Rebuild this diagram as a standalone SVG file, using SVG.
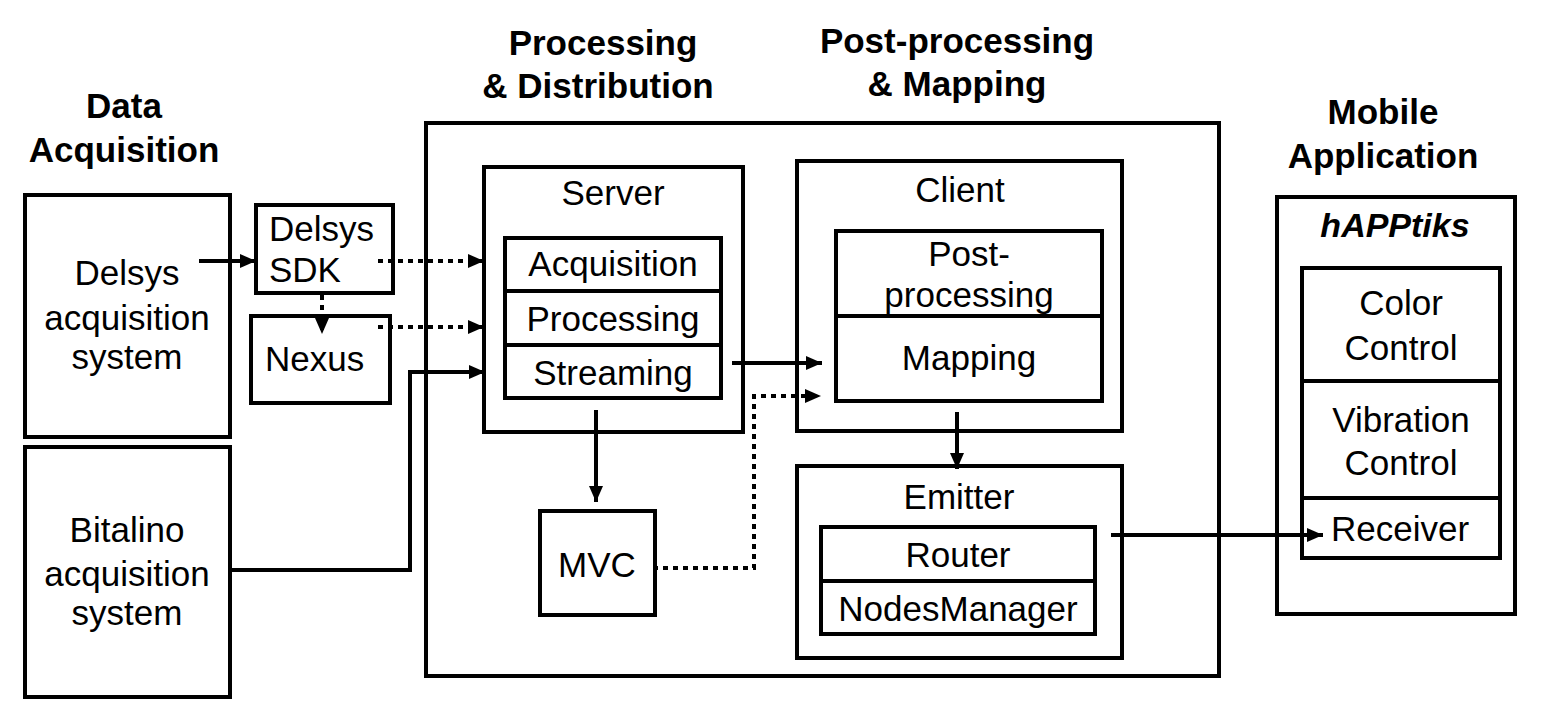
<svg xmlns="http://www.w3.org/2000/svg" width="1550" height="720" viewBox="0 0 1550 720">
<style>
.b{fill:none;stroke:#000;stroke-width:4}
.t{font-family:"Liberation Sans",Arial,sans-serif;font-size:35px;fill:#000;text-anchor:middle}
.h{font-family:"Liberation Sans",Arial,sans-serif;font-size:35px;font-weight:bold;fill:#000;text-anchor:middle}
.s{fill:none;stroke:#000;stroke-width:4}
.d{fill:none;stroke:#000;stroke-width:4;stroke-dasharray:5 5}
</style>
<defs>
<marker id="ar" markerUnits="userSpaceOnUse" markerWidth="16" markerHeight="14" refX="16" refY="7" orient="auto">
<path d="M0,0 L16,7 L0,14 z" fill="#000"/>
</marker>
</defs>
<rect width="1550" height="720" fill="#fff"/>

<g id="titles">
<text class="h" x="124" y="118">Data</text>
<text class="h" x="124" y="162">Acquisition</text>
<text class="h" x="603" y="55">Processing</text>
<text class="h" x="598" y="98">&amp; Distribution</text>
<text class="h" x="957" y="53">Post-processing</text>
<text class="h" x="957" y="96">&amp; Mapping</text>
<text class="h" x="1383" y="124">Mobile</text>
<text class="h" x="1383" y="168">Application</text>
</g>

<g id="outer"><rect class="b" x="426" y="123" width="793" height="553"/></g>

<g id="delsys-acq">
<rect class="b" x="25" y="195" width="205" height="242"/>
<text class="t" x="127" y="285">Delsys</text>
<text class="t" x="127" y="330">acquisition</text>
<text class="t" x="127" y="369">system</text>
</g>

<g id="bitalino">
<rect class="b" x="25" y="447" width="205" height="250"/>
<text class="t" x="127" y="542">Bitalino</text>
<text class="t" x="127" y="586">acquisition</text>
<text class="t" x="127" y="625">system</text>
</g>

<g id="delsys-sdk">
<rect class="b" x="256" y="205" width="137" height="88"/>
<text class="t" x="269" y="241" style="text-anchor:start">Delsys</text>
<text class="t" x="269" y="282" style="text-anchor:start">SDK</text>
</g>

<g id="nexus">
<rect class="b" x="251" y="316" width="139" height="87"/>
<text class="t" x="265" y="371" style="text-anchor:start">Nexus</text>
</g>

<g id="server">
<rect class="b" x="484" y="167" width="259" height="265"/>
<text class="t" x="613" y="205">Server</text>
<rect class="b" x="505" y="238" width="216" height="160"/>
<line class="b" x1="505" y1="291" x2="721" y2="291"/>
<line class="b" x1="505" y1="345" x2="721" y2="345"/>
<text class="t" x="613" y="276">Acquisition</text>
<text class="t" x="613" y="331">Processing</text>
<text class="t" x="613" y="385">Streaming</text>
</g>

<g id="mvc">
<rect class="b" x="540" y="511" width="115" height="104"/>
<text class="t" x="597" y="577">MVC</text>
</g>

<g id="client">
<rect class="b" x="797" y="161" width="325" height="270"/>
<text class="t" x="960" y="202">Client</text>
<rect class="b" x="836" y="231" width="266" height="170"/>
<line class="b" x1="836" y1="316" x2="1102" y2="316"/>
<text class="t" x="969" y="266">Post-</text>
<text class="t" x="969" y="307">processing</text>
<text class="t" x="969" y="370">Mapping</text>
</g>

<g id="emitter">
<rect class="b" x="797" y="466" width="325" height="192"/>
<text class="t" x="959" y="509">Emitter</text>
<rect class="b" x="821" y="527" width="274" height="107"/>
<line class="b" x1="821" y1="581" x2="1095" y2="581"/>
<text class="t" x="958" y="567">Router</text>
<text class="t" x="958" y="621">NodesManager</text>
</g>

<g id="mobile">
<rect class="b" x="1277" y="197" width="238" height="417"/>
<text class="h" x="1395" y="237" style="font-style:italic;font-size:34px">hAPPtiks</text>
<rect class="b" x="1302" y="268" width="198" height="290"/>
<line class="b" x1="1302" y1="381" x2="1500" y2="381"/>
<line class="b" x1="1302" y1="498" x2="1500" y2="498"/>
<text class="t" x="1401" y="315">Color</text>
<text class="t" x="1401" y="360">Control</text>
<text class="t" x="1401" y="432">Vibration</text>
<text class="t" x="1401" y="475">Control</text>
<text class="t" x="1400" y="541">Receiver</text>
</g>

<g id="connectors">
<line class="s" x1="199" y1="261" x2="256" y2="261" marker-end="url(#ar)"/>
<line class="d" x1="378" y1="261" x2="484" y2="261" marker-end="url(#ar)"/>
<line class="d" x1="322" y1="295" x2="322" y2="334" marker-end="url(#ar)"/>
<line class="d" x1="378" y1="327" x2="484" y2="327" marker-end="url(#ar)"/>
<polyline class="s" points="230,570 410,570 410,372 485,372" marker-end="url(#ar)"/>
<line class="s" x1="732" y1="363" x2="822" y2="363" marker-end="url(#ar)"/>
<line class="s" x1="596" y1="410" x2="596" y2="502" marker-end="url(#ar)"/>
<polyline class="d" points="653,568 754,568 754,396 821,396" marker-end="url(#ar)"/>
<line class="s" x1="957" y1="412" x2="957" y2="469" marker-end="url(#ar)"/>
<line class="s" x1="1111" y1="535" x2="1323" y2="535" marker-end="url(#ar)"/>
</g>
</svg>
